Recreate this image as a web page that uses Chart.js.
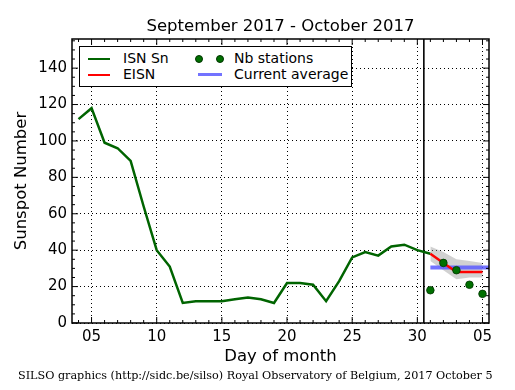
<!DOCTYPE html>
<html>
<head>
<meta charset="utf-8">
<script src="https://cdn.jsdelivr.net/npm/chart.js@4/dist/chart.umd.min.js"></script>
<style>
  body { margin: 0; background: #fff; }
  #wrap { position: relative; width: 515px; height: 390px; font-family: "DejaVu Sans", sans-serif; }
  canvas { position: absolute; left: 0; top: 0; }
  #title { position: absolute; left: 72px; top: 16px; width: 417px; text-align: center; font-size: 16.5px; line-height: 20px; white-space: nowrap; }
  .legend { position: absolute; left: 79px; top: 46px; width: 271px; height: 39px; border: 1.5px solid #000; background: #fff; }
  .lg { position: absolute; font-size: 14px; line-height: 16px; color: #000; white-space: nowrap; }
  .sw { position: absolute; height: 0; }
  .dot { position: absolute; width: 6px; height: 6px; border-radius: 50%; background: #007000; border: 1px solid #003300; }
  #footer { position: absolute; left: 18px; top: 369px; font-family: "DejaVu Serif", serif; font-size: 11.2px; white-space: nowrap; }
</style>
</head>
<body>
<div id="wrap">
  <canvas id="chart" width="515" height="390"></canvas>
  <div id="title">September 2017 - October 2017</div>
  <div class="legend">
    <div class="sw" style="left:8px;top:11px;width:22px;border-top:2.5px solid #006400"></div>
    <div class="lg" style="left:43px;top:3px">ISN Sn</div>
    <div class="sw" style="left:8px;top:27px;width:22px;border-top:2.5px solid #ff0000"></div>
    <div class="lg" style="left:43px;top:19px">EISN</div>
    <div class="dot" style="left:115px;top:8px"></div>
    <div class="dot" style="left:136px;top:8px"></div>
    <div class="lg" style="left:154px;top:3px">Nb stations</div>
    <div class="sw" style="left:118px;top:26px;width:24px;border-top:3.5px solid rgba(90,90,255,0.85)"></div>
    <div class="lg" style="left:154px;top:19px">Current average</div>
  </div>
  <div id="footer">SILSO graphics (http://sidc.be/silso) Royal Observatory of Belgium, 2017 October 5</div>
</div>
<script>
// Day of month; October days continue after 30 (Oct 1 = 31)
const ISN_DAYS = [4, 5, 6, 7, 8, 9, 10, 11, 12, 13, 14, 15, 16, 17, 18, 19, 20, 21, 22, 23, 24, 25, 26, 27, 28, 29, 30, 31];
const ISN_VALUES = [112, 118, 99, 96, 89, 64, 40, 31, 11, 12, 12, 12, 13, 14, 13, 11, 22, 22, 21, 12, 23, 36, 39, 37, 42, 43, 40, 38];

const OCT_DAYS = [31, 32, 33, 34, 35];
const EISN_VALUES = [38, 33, 28, 28, 28];
const BAND_HIGH = [42, 39, 35, 34, 33];
const BAND_LOW = [34, 29, 24, 25, 25];
const STATION_VALUES = [18, 33, 29, 21, 16];

const AVG_DAYS = [31, 36];
const AVG_VALUE = 30.5;
const MONTH_SPLIT = 30.5;

const X_MIN = 3.5, X_MAX = 35.5;
const Y_MIN = 0, Y_MAX = 156;
const X_TICKS = [5, 10, 15, 20, 25, 30, 35];
const X_TICK_LABELS = ["05", "10", "15", "20", "25", "30", "05"];
const Y_TICKS = [0, 20, 40, 60, 80, 100, 120, 140];

const FONT = "DejaVu Sans";
const pts = (xs, ys) => xs.map((x, i) => ({ x, y: ys[i] }));

// matplotlib-like frame: box + inward major/minor ticks on all sides
const frame = {
  id: "frame",
  afterDraw(chart) {
    const { ctx, chartArea: a, scales: { x, y } } = chart;
    ctx.save();
    ctx.strokeStyle = "#000";
    ctx.lineWidth = 1;
    const tick = (px, len, vertical) => {
      ctx.beginPath();
      if (vertical) {
        ctx.moveTo(px, a.bottom); ctx.lineTo(px, a.bottom - len);
        ctx.moveTo(px, a.top); ctx.lineTo(px, a.top + len);
      } else {
        ctx.moveTo(a.left, px); ctx.lineTo(a.left + len, px);
        ctx.moveTo(a.right, px); ctx.lineTo(a.right - len, px);
      }
      ctx.stroke();
    };
    for (let d = Math.ceil(X_MIN); d <= X_MAX; d++) tick(x.getPixelForValue(d), d % 5 === 0 ? 6 : 3, true);
    for (let v = Y_MIN; v <= Y_MAX; v += 5) tick(y.getPixelForValue(v), v % 20 === 0 ? 6 : 3, false);
    ctx.lineWidth = 1.5;
    ctx.strokeRect(a.left, a.top, a.right - a.left, a.bottom - a.top);
    ctx.restore();
  }
};

new Chart(document.getElementById("chart"), {
  type: "line",
  data: {
    datasets: [
      { data: pts(OCT_DAYS, BAND_HIGH), borderWidth: 0, pointRadius: 0, fill: "+1", backgroundColor: "rgba(140,140,140,0.4)", order: 7 },
      { data: pts(OCT_DAYS, BAND_LOW), borderWidth: 0, pointRadius: 0, fill: false, order: 7 },
      { data: pts(ISN_DAYS, ISN_VALUES), borderColor: "#006400", borderWidth: 2.5, pointRadius: 0, tension: 0, order: 5 },
      { data: [{ x: MONTH_SPLIT, y: Y_MIN }, { x: MONTH_SPLIT, y: Y_MAX }], borderColor: "#000", borderWidth: 1.6, pointRadius: 0, order: 6 },
      { data: AVG_DAYS.map((x) => ({ x, y: AVG_VALUE })), borderColor: "rgba(90,90,255,0.85)", borderWidth: 4, pointRadius: 0, order: 4 },
      { data: pts(OCT_DAYS, EISN_VALUES), borderColor: "#ff0000", borderWidth: 2.5, pointRadius: 0, order: 3 },
      { data: pts(OCT_DAYS, STATION_VALUES), showLine: false, pointRadius: 3.8, pointBackgroundColor: "#007000", pointBorderColor: "#003300", pointBorderWidth: 0.8, order: 1 },
    ],
  },
  options: {
    responsive: false,
    animation: false,
    events: [],
    layout: { padding: { top: 39, right: 26, bottom: 0, left: 0 } },
    plugins: {
      legend: { display: false },
      tooltip: { enabled: false },
    },
    scales: {
      x: {
        type: "linear",
        min: X_MIN,
        max: X_MAX,
        afterBuildTicks: (s) => { s.ticks = X_TICKS.map((value) => ({ value })); },
        afterFit: (s) => { s.height = 67; },
        ticks: {
          callback: (v, i) => X_TICK_LABELS[i],
          autoSkip: false, maxRotation: 0, padding: 5,
          color: "#000", font: { family: FONT, size: 15 },
        },
        grid: { color: "#000", lineWidth: 1, drawTicks: false },
        border: { display: false, dash: [1, 3] },
        title: { display: true, text: "Day of month", color: "#000", font: { family: FONT, size: 16.5, lineHeight: 1.2 }, padding: { bottom: 23 } },
      },
      y: {
        min: Y_MIN,
        max: Y_MAX,
        afterBuildTicks: (s) => { s.ticks = Y_TICKS.map((value) => ({ value })); },
        afterFit: (s) => { s.width = 72; },
        ticks: { padding: 5, color: "#000", font: { family: FONT, size: 15 } },
        grid: { color: "#000", lineWidth: 1, drawTicks: false },
        border: { display: false, dash: [1, 3] },
        title: { display: true, text: "Sunspot Number", color: "#000", font: { family: FONT, size: 16.5, lineHeight: 1.2 }, padding: { top: 12 } },
      },
    },
  },
  plugins: [frame],
});
</script>
</body>
</html>
